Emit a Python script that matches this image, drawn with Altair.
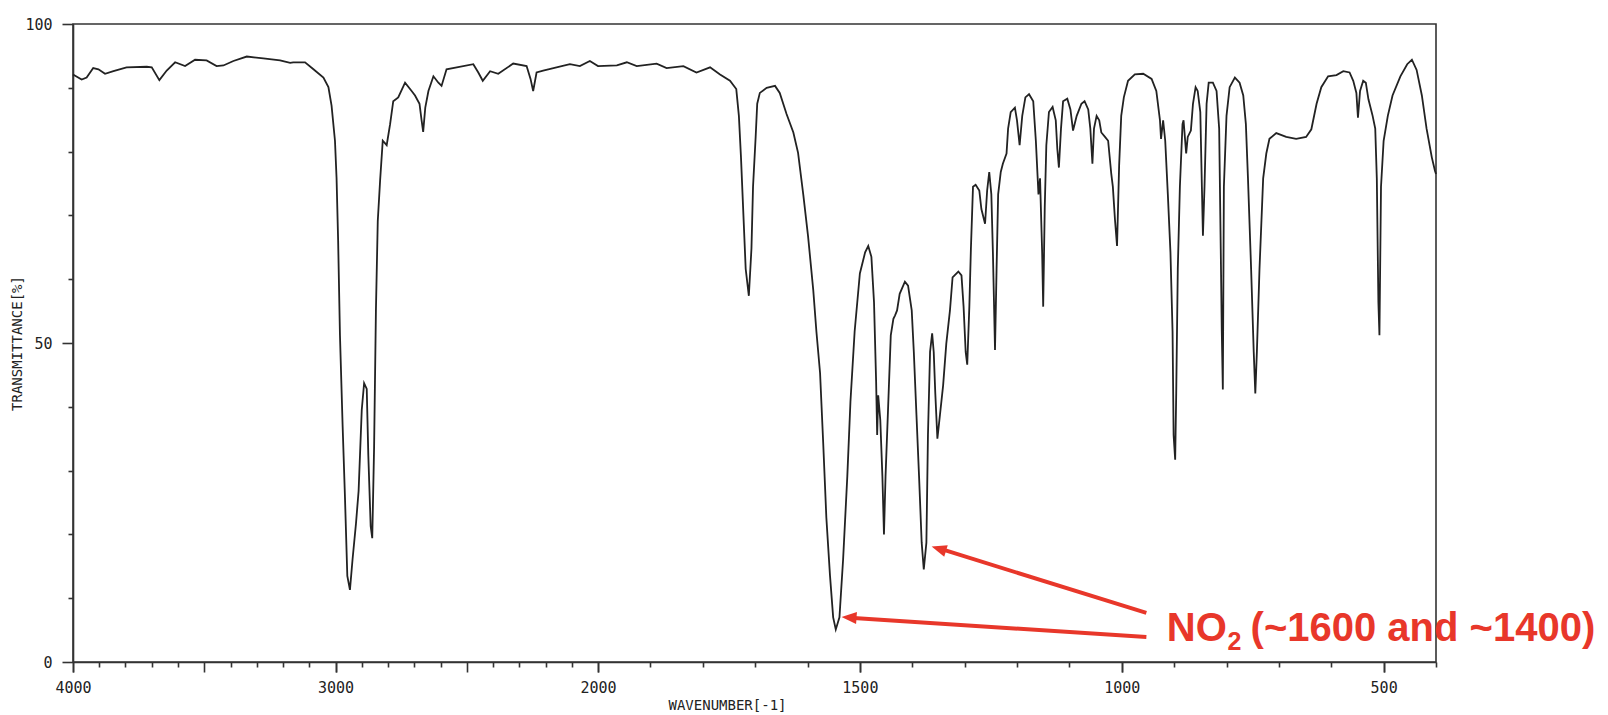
import altair as alt
import pandas as pd

# ---------------- data ----------------
wavenumber = [
    4000, 3967, 3948, 3923, 3903, 3878, 3846, 3796, 3719, 3700, 3671, 3643, 3611, 3573, 3535,
    3491, 3453, 3427, 3389, 3338, 3275, 3211, 3173, 3161, 3116, 3084, 3046, 3027, 3015, 3002,
    2996, 2990, 2983, 2973, 2964, 2955, 2945, 2935, 2922, 2912, 2900, 2891, 2881, 2875, 2866,
    2860, 2853, 2846, 2839, 2830, 2820, 2805, 2792, 2780, 2761, 2735, 2710, 2697, 2680, 2672,
    2666, 2658, 2646, 2627, 2608, 2596, 2577, 2538, 2475, 2456, 2439, 2411, 2380, 2323, 2272,
    2257, 2247, 2234, 2209, 2158, 2107, 2069, 2031, 2000, 1964, 1945, 1926, 1888, 1869, 1837,
    1812, 1786, 1767, 1748, 1736, 1731, 1727, 1723, 1718, 1712, 1707, 1704, 1699, 1696, 1691,
    1678, 1662, 1653, 1640, 1627, 1618, 1608, 1599, 1589, 1583, 1576, 1570, 1564, 1557, 1551,
    1546, 1539, 1532, 1524, 1518, 1510, 1500, 1490, 1484, 1478, 1473, 1469, 1467, 1465, 1461,
    1457, 1454, 1451, 1446, 1441, 1436, 1433, 1429, 1424, 1414, 1408, 1401, 1397, 1392, 1387,
    1382, 1378, 1373, 1370, 1366, 1362, 1359, 1356, 1352, 1347, 1341, 1335, 1328, 1323, 1312,
    1306, 1302, 1298, 1295, 1291, 1288, 1284, 1279, 1272, 1268, 1261, 1257, 1253, 1249, 1246,
    1242, 1239, 1236, 1231, 1227, 1220, 1217, 1212, 1204, 1200, 1195, 1190, 1184, 1177, 1169,
    1164, 1159, 1156, 1152, 1150, 1147, 1144, 1139, 1132, 1126, 1123, 1120, 1116, 1112, 1104,
    1098, 1093, 1086, 1077, 1071, 1064, 1060, 1056, 1053, 1048, 1043, 1039, 1032, 1026, 1020,
    1017, 1013, 1009, 1005, 1001, 996, 988, 975, 959, 943, 934, 927, 925, 921, 917,
    912, 907, 903, 901, 898, 896, 893, 889, 884, 882, 877, 874, 868, 864, 859,
    855, 850, 847, 845, 842, 838, 834, 826, 819, 814, 811, 809, 807, 805, 800,
    794, 784, 775, 768, 763, 759, 753, 748, 745, 742, 737, 730, 724, 718, 705,
    686, 667, 648, 638, 628, 619, 606, 590, 577, 565, 558, 552, 549, 545, 539,
    534, 529, 521, 516, 513, 510, 508, 505, 500, 492, 483, 468, 455, 446, 437,
    427, 418, 408, 402, 400,
]
transmittance = [
    92.1, 91.3, 91.6, 93.1, 92.9, 92.2, 92.6, 93.2, 93.3, 93.2, 91.2, 92.7, 94.0, 93.4, 94.4,
    94.3, 93.4, 93.5, 94.2, 94.9, 94.6, 94.3, 93.9, 94.0, 94.0, 92.9, 91.6, 90.1, 87.2, 81.7,
    75.9, 66.1, 51.2, 37.2, 25.9, 13.5, 11.3, 16.1, 21.7, 26.8, 39.5, 43.7, 42.8, 32.4, 21.3,
    19.4, 33.6, 55.1, 69.1, 75.5, 81.7, 81.0, 84.3, 87.9, 88.5, 90.8, 89.5, 88.8, 87.5, 84.9,
    83.1, 86.9, 89.5, 91.8, 90.8, 90.3, 92.9, 93.2, 93.7, 92.4, 91.1, 92.6, 92.2, 93.8, 93.4,
    91.4, 89.5, 92.4, 92.7, 93.2, 93.7, 93.4, 94.2, 93.4, 93.5, 94.0, 93.4, 93.8, 93.1, 93.4,
    92.4, 93.2, 92.1, 91.1, 89.8, 85.6, 79.1, 71.3, 61.6, 57.4, 64.8, 74.5, 82.3, 87.5, 89.2,
    90.0, 90.3, 89.2, 85.9, 83.0, 79.8, 73.2, 66.8, 58.3, 51.8, 45.3, 34.3, 22.6, 13.5, 7.0,
    5.1, 7.0, 16.1, 29.1, 40.8, 51.8, 60.9, 64.2, 65.2, 63.5, 56.4, 44.0, 35.6, 41.8, 37.9,
    29.1, 20.0, 29.1, 40.1, 51.2, 53.8, 54.3, 55.1, 57.7, 59.6, 59.0, 55.1, 48.6, 38.8, 29.1,
    18.7, 14.5, 18.7, 35.6, 48.6, 51.5, 48.6, 42.1, 35.0, 38.8, 43.4, 49.9, 55.1, 60.3, 61.2,
    60.6, 55.7, 48.6, 46.6, 55.7, 64.8, 74.5, 74.8, 73.9, 71.0, 68.7, 73.9, 76.8, 73.3, 64.2,
    48.9, 61.6, 73.3, 76.8, 78.1, 79.7, 83.6, 86.2, 86.9, 84.9, 81.0, 85.6, 88.5, 89.0, 87.9,
    81.7, 73.3, 75.8, 64.2, 55.7, 71.3, 81.0, 86.2, 87.0, 84.9, 80.4, 77.5, 83.6, 87.9, 88.3,
    86.6, 83.3, 85.6, 87.5, 87.9, 86.6, 83.6, 78.1, 83.6, 85.6, 84.9, 83.0, 82.3, 81.7, 76.5,
    74.5, 69.4, 65.2, 77.8, 85.6, 88.5, 91.1, 92.1, 92.2, 91.4, 89.5, 84.9, 82.0, 84.9, 81.7,
    73.3, 64.2, 51.8, 35.6, 31.7, 42.1, 61.6, 74.5, 84.3, 84.9, 79.7, 82.3, 83.3, 87.5, 90.1,
    89.5, 86.2, 74.5, 66.8, 74.5, 87.5, 90.8, 90.8, 89.5, 83.6, 64.8, 51.8, 42.7, 74.5, 85.6,
    90.1, 91.6, 90.8, 88.8, 84.3, 75.8, 61.6, 48.6, 42.1, 48.6, 61.6, 75.8, 79.7, 82.0, 82.9,
    82.3, 82.0, 82.3, 83.5, 87.5, 90.1, 91.8, 92.0, 92.6, 92.4, 91.1, 89.2, 85.3, 89.5, 91.1,
    90.8, 88.2, 85.6, 83.6, 75.8, 56.4, 51.2, 74.5, 81.7, 85.6, 88.8, 91.8, 93.7, 94.4, 92.8,
    88.8, 83.6, 79.1, 77.0, 76.5,
]

# axis ticks and labels
x_tick_values = list(range(4000, 399, -100))
x_major_ticks = [4000, 3500, 3000, 2500, 2000, 1500, 1000, 500]
x_label_values = [4000, 3000, 2000, 1500, 1000, 500]
y_tick_values = list(range(0, 101, 10))
y_major_ticks = [0, 50, 100]
y_label_values = [0, 50, 100]

# annotation (red arrows and label), in data coordinates
arrow_tail_wn = [953, 953]
arrow_tail_t = [7.7, 3.9]
arrow_neck_wn = [1341, 1512]
arrow_neck_t = [17.6, 6.9]
arrow_tip_wn = [1363, 1535]
arrow_tip_t = [18.1, 7.05]
arrow_angle = [287, 274]

label_parts = ["NO", "2", "(~1600 and ~1400)"]
label_wn = [914, 798, 754]
label_t = [3.3, 1.9, 3.3]
label_size = [40, 25, 40]

RED = "#e8372a"
INK = "#222222"

# ---------------- chart ----------------
spec_df = pd.DataFrame({"wn": wavenumber, "t": transmittance})
arrows_df = pd.DataFrame({
    "tail_wn": arrow_tail_wn, "tail_t": arrow_tail_t,
    "neck_wn": arrow_neck_wn, "neck_t": arrow_neck_t,
    "tip_wn": arrow_tip_wn, "tip_t": arrow_tip_t, "angle": arrow_angle,
})
label_df = pd.DataFrame({"txt": label_parts, "wn": label_wn, "t": label_t, "size": label_size})

x_scale = alt.Scale(domain=[4000, 2000, 400], range=[0, 525, 1363])
y_scale = alt.Scale(domain=[0, 100])

x_major_js = "[" + ",".join(str(v) for v in x_major_ticks) + "]"
y_major_js = "[" + ",".join(str(v) for v in y_major_ticks) + "]"
y_label_js = "[" + ",".join(str(v) for v in y_label_values) + "]"

# x axis 1: all tick marks (minor and major), no labels
x_tick_axis = alt.Axis(
    orient="bottom",
    values=x_tick_values,
    title=None,
    labels=False,
    tickSize={"condition": {"test": f"indexof({x_major_js}, datum.value) >= 0", "value": 10}, "value": 5},
    grid=False,
)
# x axis 2: labels and title only
x_label_axis = alt.Axis(
    orient="bottom",
    values=x_label_values,
    format="d",
    title="WAVENUMBER[-1]",
    domain=False,
    ticks=True,
    tickSize=10,
    labelPadding=8,
    labelFont="DejaVu Sans Mono",
    labelFontSize=15,
    labelColor=INK,
    labelFlush=False,
    labelOverlap=False,
    titleFont="DejaVu Sans Mono",
    titleFontSize=14,
    titleFontWeight="normal",
    titleColor=INK,
    titlePadding=3,
    titleX=654,
    grid=False,
)
y_axis = alt.Axis(
    values=y_tick_values,
    title="TRANSMITTANCE[%]",
    labelExpr=f"indexof({y_label_js}, datum.value) >= 0 ? '' + datum.value : ''",
    tickSize={"condition": {"test": f"indexof({y_major_js}, datum.value) >= 0", "value": 11}, "value": 5},
    labelPadding=10,
    labelFont="DejaVu Sans Mono",
    labelFontSize=15,
    labelColor=INK,
    labelFlush=False,
    labelOverlap=False,
    titleFont="DejaVu Sans Mono",
    titleFontSize=14,
    titleFontWeight="normal",
    titleColor=INK,
    titlePadding=0,
    grid=False,
)

spectrum = alt.Chart(spec_df).mark_line(color=INK, strokeWidth=1.8).encode(
    x=alt.X("wn:Q", scale=x_scale, axis=x_tick_axis),
    y=alt.Y("t:Q", scale=y_scale, axis=y_axis),
)

label_axis_layer = alt.Chart(spec_df).mark_line(opacity=0).encode(
    x=alt.X("wn:Q", scale=x_scale, axis=x_label_axis),
    y=alt.Y("t:Q", scale=y_scale, axis=y_axis),
)

arrow_lines = alt.Chart(arrows_df).mark_rule(color=RED, strokeWidth=4).encode(
    x=alt.X("tail_wn:Q", scale=x_scale, axis=None),
    y=alt.Y("tail_t:Q", scale=y_scale, axis=y_axis),
    x2="neck_wn:Q",
    y2="neck_t:Q",
)

arrow_heads = alt.Chart(arrows_df).mark_point(
    shape="M0,0L0.8,2L-0.8,2Z", filled=True, color=RED, opacity=1, size=225, strokeWidth=0
).encode(
    x=alt.X("tip_wn:Q", scale=x_scale, axis=None),
    y=alt.Y("tip_t:Q", scale=y_scale, axis=y_axis),
    angle=alt.Angle("angle:Q", scale=None),
)

label = alt.Chart(label_df).mark_text(
    color=RED, font="Liberation Sans", fontWeight="bold", align="left", baseline="alphabetic"
).encode(
    x=alt.X("wn:Q", scale=x_scale, axis=None),
    y=alt.Y("t:Q", scale=y_scale, axis=y_axis),
    text="txt:N",
    size=alt.Size("size:Q", scale=None),
)

chart = alt.layer(spectrum, label_axis_layer, arrow_lines, arrow_heads, label).resolve_axis(
    x="independent", y="shared"
).properties(
    width=1363,
    height=638,
    autosize=alt.AutoSizeParams(type="none"),
    padding={"left": 73, "top": 24, "right": 172, "bottom": 53},
    background="white",
).configure_view(
    stroke="#333333", strokeWidth=1.6
).configure_axis(
    domainColor="#333333", domainWidth=1.6, tickColor="#333333", tickWidth=1.6
)

chart.save("out.html", embed_options={"renderer": "svg", "actions": False})
